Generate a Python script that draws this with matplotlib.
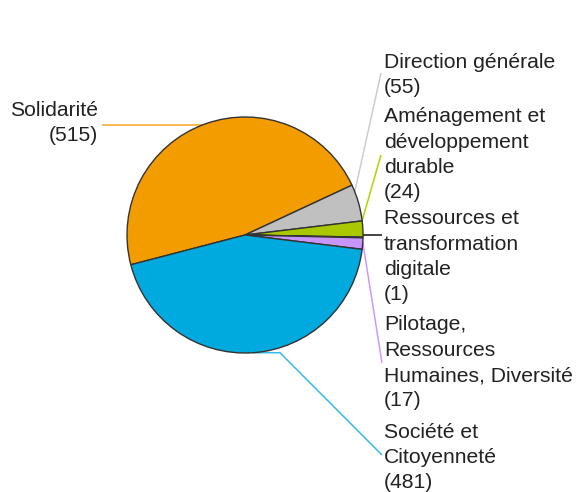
import numpy as np
import matplotlib.pyplot as plt

# data, clockwise order as drawn
labels = ["Solidarité", "Direction générale", "Aménagement et\ndéveloppement\ndurable",
          "Ressources et\ntransformation\ndigitale", "Pilotage,\nRessources\nHumaines, Diversité",
          "Société et\nCitoyenneté"]
values = [515, 55, 24, 1, 17, 481]
colors = ["#F39C00", "#C0C0C0", "#AAC800", "#222222", "#C896FA", "#00AADE"]
leader_colors = ["#F5A623", "#CCCCCC", "#B5D200", "#111111", "#CC99FF", "#33BBEE"]

W, H = 578, 492
cx, cy, r = 245, H - 235, 118

fig = plt.figure(figsize=(W / 100, H / 100), dpi=100)
ax = fig.add_axes([0, 0, 1, 1])
wedges, _ = ax.pie(values, colors=colors, center=(cx, cy), radius=r,
                   startangle=194.6, counterclock=False,
                   wedgeprops=dict(edgecolor="#333333", linewidth=1.0))
ax.set_xlim(0, W)
ax.set_ylim(0, H)
ax.set_aspect("equal")
ax.axis("off")

font = dict(family=["Liberation Sans", "DejaVu Sans"], size=15.2, color="#222222")
step = 25.3

# label layout: (text x, first line y, align, leader points in pixels, anchor angle)
# None as y means "same height as the anchor on the pie"
layout = [
    (98, 110, "right", [(102, None)], 111),
    (384, 62, "left", [(381, 73)], 21.5),
    (384, 117, "left", [(381, 155)], 7),
    (384, 219, "left", [(382, None)], 0),
    (384, 325, "left", [(382, 363)], -3.5),
    (384, 432, "left", [(280, None), (382, 455)], -86),
]

for w, lab, val, lc, (tx, ty, ha, pts, ang) in zip(wedges, labels, values, leader_colors, layout):
    a = np.deg2rad(ang)
    sx, sy = cx + r * np.cos(a), cy + r * np.sin(a)
    xs = [sx] + [p[0] for p in pts]
    ys = [sy] + [sy if p[1] is None else H - p[1] for p in pts]
    ax.plot(xs, ys, color=lc, lw=1.1, solid_capstyle="butt", zorder=0)
    lines = lab.split("\n") + [f"({val})"]
    for i, ln in enumerate(lines):
        ax.text(tx, H - (ty + i * step), ln, ha=ha, va="center", **font)

fig.savefig("out.png", dpi=100)
